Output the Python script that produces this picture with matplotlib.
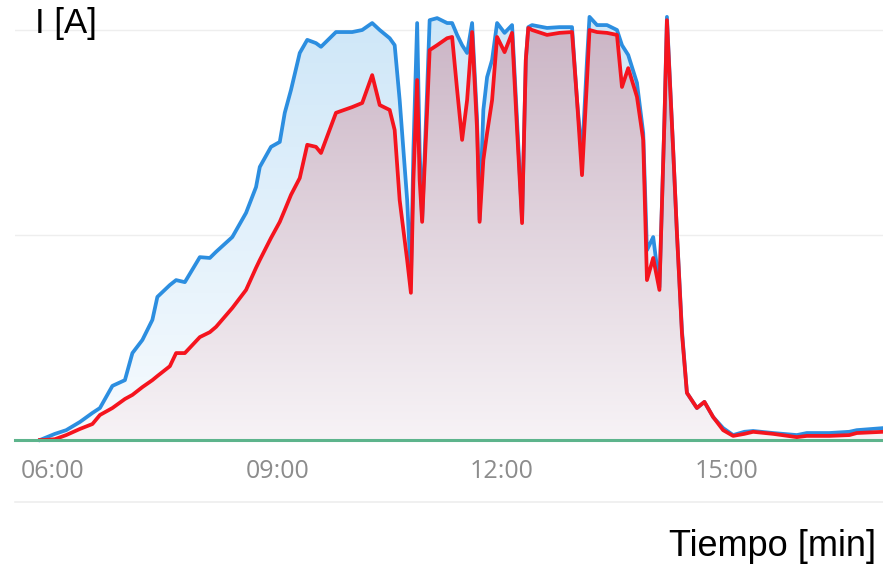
import numpy as np
import pandas as pd
import matplotlib
matplotlib.use("Agg")
import matplotlib.pyplot as plt
import matplotlib.dates as mdates
from matplotlib.patches import Polygon
from matplotlib.lines import Line2D

# sample times (HH:MM) and currents
times = [
    "05:50", "05:54", "06:02", "06:11", "06:22", "06:32", "06:38", "06:48", "06:58", "07:04",
    "07:12", "07:20", "07:24", "07:34", "07:39", "07:46", "07:58", "08:06", "08:11", "08:24",
    "08:35", "08:43", "08:46", "08:55", "09:02", "09:06", "09:11", "09:18", "09:24", "09:31",
    "09:35", "09:47", "10:00", "10:08", "10:16", "10:22", "10:30", "10:34", "10:38", "10:44",
    "10:47", "10:49", "10:52", "10:54", "10:56", "11:00", "11:02", "11:08", "11:16", "11:20",
    "11:24", "11:28", "11:32", "11:36", "11:40", "11:42", "11:45", "11:48", "11:52", "11:56",
    "12:02", "12:08", "12:12", "12:16", "12:19", "12:21", "12:24", "12:36", "12:46", "12:56",
    "13:00", "13:04", "13:08", "13:10", "13:16", "13:24", "13:32", "13:36", "13:41", "13:48",
    "13:53", "13:56", "14:01", "14:06", "14:10", "14:12", "14:17", "14:20", "14:24", "14:28",
    "14:36", "14:42", "14:49", "14:57", "15:05", "15:14", "15:21", "15:37", "15:56", "16:04",
    "16:22", "16:38", "16:44", "17:05",
]

i_blue = [
    0.00, 0.05, 0.15, 0.24, 0.44, 0.66, 0.78, 1.32, 1.46, 2.12,
    2.44, 2.93, 3.49, 3.78, 3.90, 3.85, 4.46, 4.44, 4.59, 4.95,
    5.54, 6.17, 6.66, 7.15, 7.27, 7.98, 8.54, 9.44, 9.76, 9.68,
    9.59, 9.95, 9.95, 10.00, 10.17, 10.00, 9.80, 9.63, 8.29, 5.85,
    3.90, 7.07, 10.17, 7.07, 5.37, 8.54, 10.24, 10.29, 10.17, 10.17,
    9.88, 9.63, 9.44, 10.17, 7.80, 5.37, 8.05, 8.85, 9.27, 10.17,
    9.93, 10.12, 7.80, 5.37, 9.27, 10.07, 10.12, 10.05, 10.07, 10.07,
    8.29, 6.90, 9.27, 10.32, 10.12, 10.12, 10.00, 9.63, 9.39, 8.71,
    7.49, 4.63, 4.95, 3.73, 7.80, 10.32, 7.07, 5.05, 2.68, 1.15,
    0.78, 0.93, 0.56, 0.29, 0.12, 0.20, 0.22, 0.17, 0.12, 0.17,
    0.17, 0.20, 0.24, 0.29,
]

i_red = [
    0.00, 0.00, 0.02, 0.12, 0.27, 0.39, 0.61, 0.78, 1.00, 1.10,
    1.29, 1.46, 1.56, 1.80, 2.12, 2.12, 2.51, 2.63, 2.76, 3.22,
    3.66, 4.20, 4.39, 4.93, 5.32, 5.61, 5.98, 6.39, 7.20, 7.15,
    7.00, 7.98, 8.12, 8.22, 8.90, 8.17, 8.05, 7.56, 5.85, 4.39,
    3.59, 6.34, 8.78, 6.34, 5.32, 8.05, 9.51, 9.63, 9.80, 9.83,
    8.54, 7.32, 8.29, 9.95, 7.56, 5.32, 6.83, 7.49, 8.29, 9.83,
    9.46, 9.93, 7.56, 5.29, 9.27, 10.05, 10.00, 9.88, 9.93, 9.95,
    8.29, 6.46, 8.78, 10.00, 9.95, 9.93, 9.88, 8.61, 9.07, 8.37,
    7.32, 3.90, 4.44, 3.66, 7.80, 10.24, 7.07, 5.05, 2.61, 1.15,
    0.78, 0.93, 0.56, 0.24, 0.10, 0.15, 0.20, 0.15, 0.07, 0.10,
    0.10, 0.12, 0.17, 0.20,
]

tick_hours = [6, 9, 12, 15]


def gradient_fill(ax, x, y, top, bottom, ymax, z):
    # vertical colour gradient clipped to the area under the curve
    verts = [(x[0], 0)] + list(zip(x, y)) + [(x[-1], 0)]
    patch = Polygon(verts, closed=True, facecolor="none", edgecolor="none")
    ax.add_patch(patch)
    n = 256
    t = np.linspace(0, 1, n)[:, None]
    top = np.array(matplotlib.colors.to_rgba(top))
    bottom = np.array(matplotlib.colors.to_rgba(bottom))
    grad = bottom + (top - bottom) * t
    grad = np.repeat(grad[:, None, :], 2, axis=1)
    im = ax.imshow(grad, extent=[x[0], x[-1], 0, ymax], origin="lower",
                   aspect="auto", zorder=z, interpolation="bilinear")
    im.set_clip_path(patch)


day = "2020-01-01 "
x = mdates.date2num(pd.to_datetime([day + t for t in times]))
y_top = 440 / 41

fig = plt.figure(figsize=(8.83, 5.64), dpi=100)
ax = fig.add_axes([15 / 883, 124 / 564, 868 / 883, 440 / 564])

gradient_fill(ax, x, i_blue, "#cde6f8", "#f7fbfe", y_top, 1)
gradient_fill(ax, x, i_red, "#c9b2c3", "#f7f3f6", y_top, 2)

ax.plot(x, i_blue, color="#2c8ee0", lw=2.7, solid_joinstyle="round", zorder=4, clip_on=False)
ax.plot(x, i_red, color="#f5141e", lw=2.7, solid_joinstyle="round", zorder=5, clip_on=False)

for g in (5, 10):
    ax.axhline(g, color="#eeeeee", lw=1, zorder=0)

ax.set_xlim(mdates.date2num(pd.Timestamp(day + "05:30")),
            mdates.date2num(pd.Timestamp(day + "17:05")))
ax.set_ylim(0, y_top)

ax.xaxis.set_major_locator(mdates.HourLocator(byhour=tick_hours))
ax.xaxis.set_major_formatter(mdates.DateFormatter("%H:%M"))
ax.tick_params(axis="x", length=0, pad=14, labelsize=18, labelcolor="#8c8c8c")
for lab in ax.get_xticklabels():
    lab.set_fontfamily("Open Sans")
ax.set_yticks([])

for s in ("top", "left", "right"):
    ax.spines[s].set_visible(False)
ax.spines["bottom"].set_color("#5db48c")
ax.spines["bottom"].set_linewidth(2.2)
ax.spines["bottom"].set_zorder(6)
ax.set_facecolor("white")

fig.add_artist(Line2D([15 / 883, 1], [1 - 502 / 564] * 2, color="#eeeeee", lw=1.2))

fig.text(35 / 883, 1 - 24 / 564, "I [A]", fontsize=25, family="Liberation Sans",
         ha="left", va="center")
fig.text(876 / 883, 1 - 546 / 564, "Tiempo [min]", fontsize=26, family="Liberation Sans",
         ha="right", va="center")

fig.savefig("out.png", dpi=100)
